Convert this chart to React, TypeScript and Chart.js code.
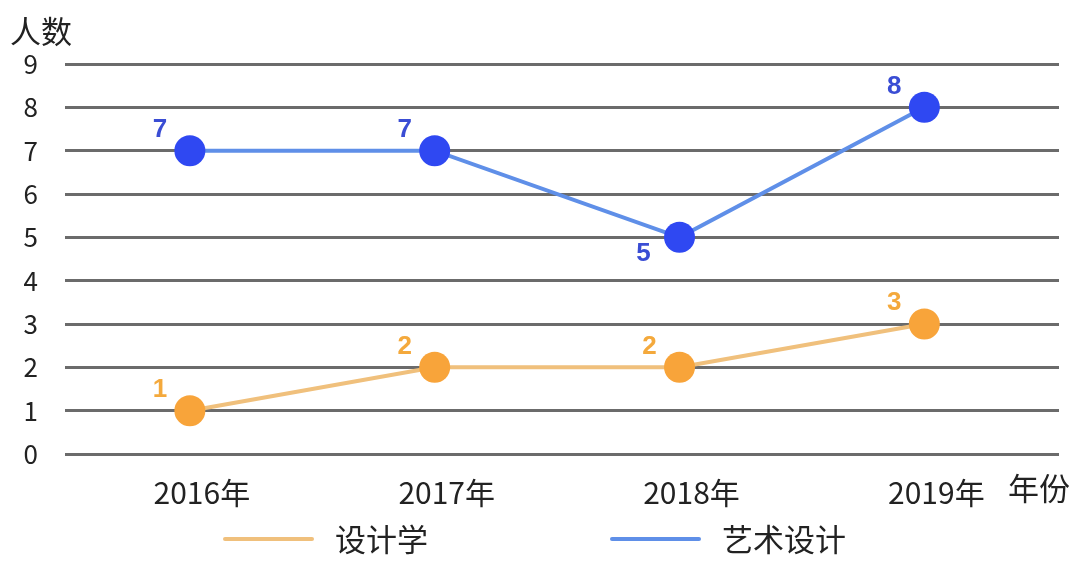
import React, { useEffect, useRef } from 'react';
import { Chart, registerables } from 'chart.js';

Chart.register(...registerables);

const years = [2016, 2017, 2018, 2019];
const designValues = [1, 2, 2, 3];
const artDesignValues = [7, 7, 5, 8];
const seriesNames = ['设计学', '艺术设计'];
const yAxisTitle = '人数';
const xAxisTitle = '年份';
const yearSuffix = '年';
const designLabelSide = ['above', 'above', 'above', 'above'];
const artLabelSide = ['above', 'above', 'below', 'above'];

const FONT = '"Noto Sans CJK SC", "Noto Sans", sans-serif';
const ORANGE_LINE = '#f0c07c';
const ORANGE_POINT = '#f8a43a';
const ORANGE_TEXT = '#f4a93c';
const BLUE_LINE = '#5f8fe8';
const BLUE_POINT = '#2f48f2';
const BLUE_TEXT = '#3a4dd4';

const labelSides = [designLabelSide, artLabelSide];
const labelColors = [ORANGE_TEXT, BLUE_TEXT];

const valueLabelPlugin = {
  id: 'valueLabels',
  afterDatasetsDraw(chart: any) {
    const ctx = chart.ctx;
    ctx.save();
    ctx.font = `bold 26px "Liberation Sans", Arial, sans-serif`;
    ctx.textAlign = 'center';
    ctx.textBaseline = 'middle';
    chart.data.datasets.forEach((ds: any, di: number) => {
      const meta = chart.getDatasetMeta(di);
      meta.data.forEach((el: any, i: number) => {
        const side = labelSides[di][i];
        const v = ds.data[i].y;
        ctx.fillStyle = labelColors[di];
        const dx = side === 'below' ? -36 : -30;
        const dy = side === 'below' ? 16 : -21;
        ctx.fillText(String(v), el.x + dx, el.y + dy);
      });
    });
    ctx.restore();
  },
};

const decorPlugin = {
  id: 'decor',
  afterDraw(chart: any) {
    const ctx = chart.ctx;
    const area = chart.chartArea;
    ctx.save();
    ctx.fillStyle = '#222';
    ctx.font = `31px ${FONT}`;
    ctx.textBaseline = 'middle';
    ctx.textAlign = 'left';
    ctx.fillText(yAxisTitle, 10, 31);
    ctx.fillText(xAxisTitle, area.right - 51, 488);

    // legend
    const items = [
      { text: seriesNames[0], color: ORANGE_LINE, x: 225 },
      { text: seriesNames[1], color: BLUE_LINE, x: 612 },
    ];
    const ly = 539;
    items.forEach((it) => {
      ctx.strokeStyle = it.color;
      ctx.lineWidth = 4;
      ctx.lineCap = 'round';
      ctx.beginPath();
      ctx.moveTo(it.x, ly);
      ctx.lineTo(it.x + 87, ly);
      ctx.stroke();
      ctx.fillStyle = '#222';
      ctx.fillText(it.text, it.x + 110, ly);
    });
    ctx.restore();
  },
};

export default function App() {
  const ref = useRef<HTMLCanvasElement>(null);

  useEffect(() => {
    if (!ref.current) return;
    document.body.style.margin = '0';
    const chart = new Chart(ref.current, {
      type: 'line',
      data: {
        datasets: [
          {
            label: seriesNames[0],
            data: years.map((y, i) => ({ x: y, y: designValues[i] })),
            borderColor: ORANGE_LINE,
            backgroundColor: ORANGE_POINT,
            pointBackgroundColor: ORANGE_POINT,
            pointBorderColor: ORANGE_POINT,
            borderWidth: 4,
            pointRadius: 15.5,
            pointBorderWidth: 0,
            tension: 0,
          },
          {
            label: seriesNames[1],
            data: years.map((y, i) => ({ x: y, y: artDesignValues[i] })),
            borderColor: BLUE_LINE,
            backgroundColor: BLUE_POINT,
            pointBackgroundColor: BLUE_POINT,
            pointBorderColor: BLUE_POINT,
            borderWidth: 4,
            pointRadius: 15.5,
            pointBorderWidth: 0,
            tension: 0,
          },
        ],
      },
      options: {
        responsive: false,
        animation: false,
        layout: { padding: { top: 64, right: 21, bottom: 0, left: 0 } },
        plugins: {
          legend: { display: false },
          tooltip: { enabled: false },
          title: { display: false },
        },
        scales: {
          x: {
            type: 'linear',
            min: 2015.49,
            max: 2019.55,
            grid: { display: false },
            border: { display: false },
            afterBuildTicks: (scale: any) => {
              scale.ticks = years.map((v) => ({ value: v }));
            },
            afterFit: (scale: any) => {
              scale.height = 121;
            },
            ticks: {
              padding: 13,
              labelOffset: 12,
              color: '#222',
              font: { family: FONT, size: 30 },
              maxRotation: 0,
              autoSkip: false,
              callback: (v: any) => `${v}${yearSuffix}`,
            },
          },
          y: {
            min: 0,
            max: 9,
            afterFit: (scale: any) => {
              scale.width = 65;
            },
            grid: { color: '#6b6b6b', lineWidth: 3, drawTicks: false },
            border: { display: false },
            ticks: {
              stepSize: 1,
              padding: 27,
              color: '#222',
              font: { family: FONT, size: 26 },
            },
          },
        },
      } as any,
      plugins: [valueLabelPlugin, decorPlugin],
    });
    return () => chart.destroy();
  }, []);

  return (
    <div style={{ position: 'absolute', left: 0, top: 0, width: 1080, height: 575, background: '#fff' }}>
      <canvas ref={ref} width={1080} height={575} style={{ display: 'block' }} />
    </div>
  );
}
